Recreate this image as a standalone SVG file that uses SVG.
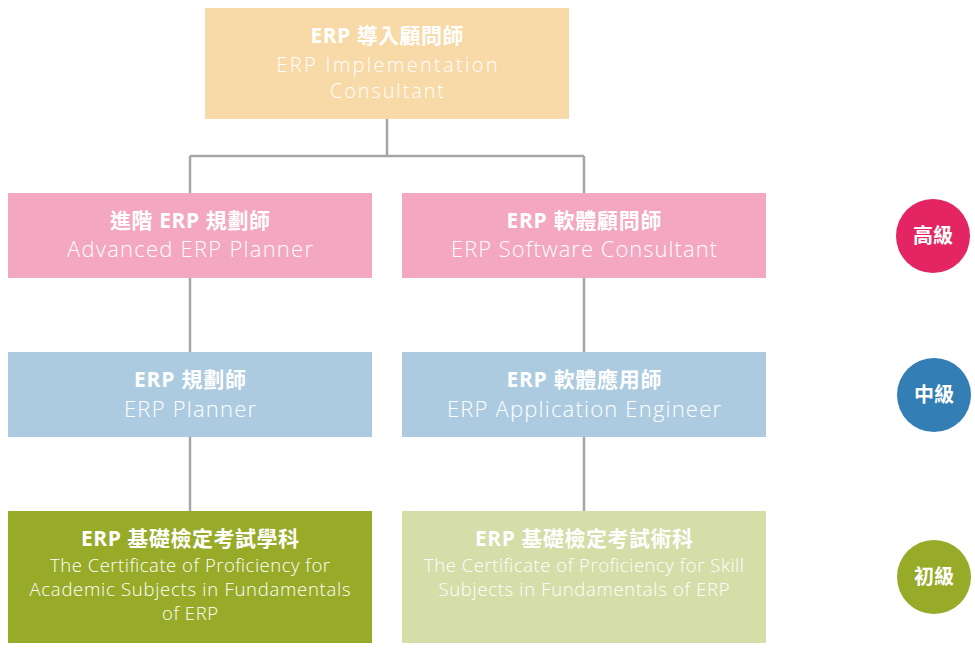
<svg xmlns="http://www.w3.org/2000/svg" width="975" height="654" viewBox="0 0 975 654">
<style>
.t{font-family:"Open Sans","Noto Sans CJK TC",sans-serif;font-weight:700;font-size:21px;fill:#fff;text-anchor:middle}
.s{font-family:"Open Sans","Noto Sans CJK TC",sans-serif;font-weight:300;font-size:22px;fill:#fff;text-anchor:middle}
.u{font-family:"Open Sans","Noto Sans CJK TC",sans-serif;font-weight:300;font-size:20px;fill:#fff;text-anchor:middle}
.g{font-family:"Open Sans","Noto Sans CJK TC",sans-serif;font-weight:300;font-size:18.5px;fill:#fff;text-anchor:middle}
.c{font-family:"Noto Sans CJK TC",sans-serif;font-weight:700;font-size:20px;fill:#fff;text-anchor:middle}
.ln{stroke:#A6A6A6;stroke-width:2.5;fill:none}
</style>
<rect width="975" height="654" fill="#fff"/>
<g id="connectors">
<path class="ln" d="M387 119V156M190 156H584M190 156V193M584 156V193M190 278V352M584 278V352M190 437V511M584 437V511"/>
</g>
<g id="n-impl">
<rect x="205" y="8" width="364" height="111" fill="#F8D9A8"/>
<text class="t" x="387" y="43" textLength="153" lengthAdjust="spacing">ERP 導入顧問師</text>
<text class="u" x="387" y="72" textLength="221" lengthAdjust="spacing">ERP Implementation</text>
<text class="u" x="387" y="98" textLength="114" lengthAdjust="spacing">Consultant</text>
</g>
<g id="n-adv">
<rect x="8" y="193" width="364" height="85" fill="#F4A7C0"/>
<text class="t" x="190" y="228" textLength="160" lengthAdjust="spacing">進階 ERP 規劃師</text>
<text class="s" x="190" y="257" textLength="246" lengthAdjust="spacing">Advanced ERP Planner</text>
</g>
<g id="n-soft">
<rect x="402" y="193" width="364" height="85" fill="#F4A7C0"/>
<text class="t" x="584" y="228" textLength="155" lengthAdjust="spacing">ERP 軟體顧問師</text>
<text class="s" x="584" y="257" textLength="266" lengthAdjust="spacing">ERP Software Consultant</text>
</g>
<g id="n-planner">
<rect x="8" y="352" width="364" height="85" fill="#ADCBE0"/>
<text class="t" x="190" y="387" textLength="112" lengthAdjust="spacing">ERP 規劃師</text>
<text class="s" x="190" y="417" textLength="132" lengthAdjust="spacing">ERP Planner</text>
</g>
<g id="n-app">
<rect x="402" y="352" width="364" height="85" fill="#ADCBE0"/>
<text class="t" x="584" y="387" textLength="155" lengthAdjust="spacing">ERP 軟體應用師</text>
<text class="s" x="584" y="417" textLength="274" lengthAdjust="spacing">ERP Application Engineer</text>
</g>
<g id="n-acad">
<rect x="8" y="511" width="364" height="132" fill="#97AB28"/>
<text class="t" x="190" y="546" textLength="218" lengthAdjust="spacing">ERP 基礎檢定考試學科</text>
<text class="g" x="190" y="572" textLength="280" lengthAdjust="spacing">The Certificate of Proficiency for</text>
<text class="g" x="190" y="596" textLength="321" lengthAdjust="spacing">Academic Subjects in Fundamentals</text>
<text class="g" x="190" y="620" textLength="56" lengthAdjust="spacing">of ERP</text>
</g>
<g id="n-skill">
<rect x="402" y="511" width="364" height="132" fill="#D5DDA8"/>
<text class="t" x="584" y="546" textLength="218" lengthAdjust="spacing">ERP 基礎檢定考試術科</text>
<text class="g" x="584" y="572" textLength="320" lengthAdjust="spacing">The Certificate of Proficiency for Skill</text>
<text class="g" x="584" y="596" textLength="291" lengthAdjust="spacing">Subjects in Fundamentals of ERP</text>
</g>
<g id="lv-high">
<circle cx="933" cy="236" r="37" fill="#E32563"/>
<text class="c" x="933" y="243">高級</text>
</g>
<g id="lv-mid">
<circle cx="934" cy="395" r="37" fill="#327EB5"/>
<text class="c" x="934" y="402">中級</text>
</g>
<g id="lv-low">
<circle cx="934" cy="577" r="37" fill="#97AB28"/>
<text class="c" x="934" y="584">初級</text>
</g>
</svg>
